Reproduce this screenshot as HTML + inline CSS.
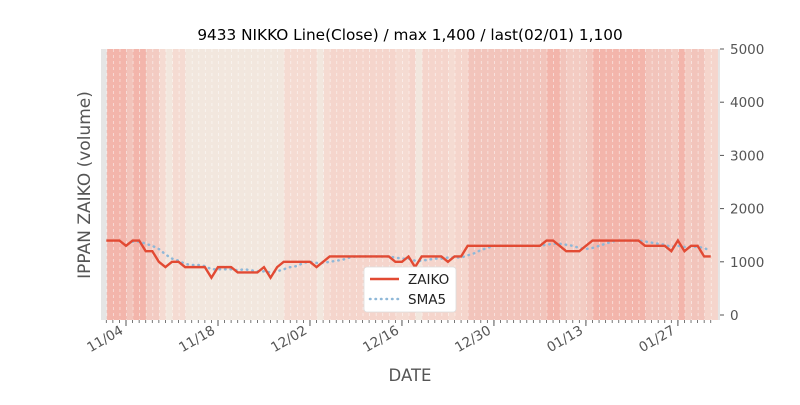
<!DOCTYPE html>
<html><head><meta charset="utf-8"><style>
body{margin:0;background:#fff;}
svg text{font-family:"DejaVu Sans","Liberation Sans",sans-serif;}
</style></head><body>
<svg id="s" width="800" height="400" xmlns="http://www.w3.org/2000/svg"></svg>
<script>
const Z=[1400,1400,1400,1300,1400,1400,1200,1200,1000,900,1000,1000,900,900,900,900,700,900,900,900,800,800,800,800,900,700,900,1000,1000,1000,1000,1000,900,1000,1100,1100,1100,1100,1100,1100,1100,1100,1100,1100,1000,1000,1100,900,1100,1100,1100,1100,1000,1100,1100,1300,1300,1300,1300,1300,1300,1300,1300,1300,1300,1300,1300,1400,1400,1300,1200,1200,1200,1300,1400,1400,1400,1400,1400,1400,1400,1400,1300,1300,1300,1300,1200,1400,1200,1300,1300,1100,1100];
const X=i=>106.3+6.57*i, Y=v=>315-v*266/5000;
const col=v=>v>=1400?'#f3b5ab':v>=1300?'#f2c4bb':v>=1200?'#f3cbc2':v>=1100?'#f5d5cc':v>=1000?'#f5dbd2':'#f2e7de';
let h='<rect x="101" y="49" width="619" height="271" fill="#e5e5e5"/>';
for(let i=0;i<Z.length;i++){h+=`<rect x="${X(i)+0.5}" y="49" width="6.7" height="271" fill="${col(Z[i])}"/>`;}
for(let i=0;i<Z.length;i++){h+=`<line x1="${X(i)+0.5}" y1="49" x2="${X(i)+0.5}" y2="320" stroke="#fff" stroke-opacity="0.6" stroke-width="0.8" stroke-dasharray="3,3"/>`;
h+=`<line x1="${X(i)}" y1="320" x2="${X(i)}" y2="323" stroke="#555" stroke-width="0.8"/>`;}
const maj=[[3,'11/04'],[17,'11/18'],[31,'12/02'],[45,'12/16'],[59,'12/30'],[73,'01/13'],[87,'01/27']];
for(const [i,t] of maj){const x=X(i);h+=`<line x1="${x}" y1="320" x2="${x}" y2="326" stroke="#555"/>`;
h+=`<text transform="translate(${x-2},333) rotate(-30)" text-anchor="end" font-size="13.5" fill="#555">${t}</text>`;}
for(let k=0;k<=5;k++){const y=Y(k*1000);h+=`<line x1="720" y1="${y}" x2="724" y2="${y}" stroke="#555"/><text x="730" y="${y+5}" font-size="13.5" fill="#555">${k*1000}</text>`;}
let sp='';for(let i=4;i<Z.length;i++){let m=(Z[i]+Z[i-1]+Z[i-2]+Z[i-3]+Z[i-4])/5;sp+=`${X(i)},${Y(m)} `;}
h+=`<polyline points="${sp}" fill="none" stroke="#8fb8d8" stroke-width="2.5" stroke-dasharray="0.5,5" stroke-linecap="round"/>`;
let zp=Z.map((v,i)=>`${X(i)},${Y(v)}`).join(' ');
h+=`<polyline points="${zp}" fill="none" stroke="#e24a33" stroke-width="2.4"/>`;
h+=`<rect x="364" y="267" width="92" height="45" rx="3" fill="#fff" stroke="#ddd" stroke-width="0.8"/>`;
h+=`<line x1="370" y1="279" x2="399" y2="279" stroke="#e24a33" stroke-width="2.4"/><text x="408" y="284" font-size="13.5" fill="#222">ZAIKO</text>`;
h+=`<line x1="370" y1="299" x2="399" y2="299" stroke="#8fb8d8" stroke-width="2.5" stroke-dasharray="0.5,5" stroke-linecap="round"/><text x="408" y="304" font-size="13.5" fill="#222">SMA5</text>`;
h+=`<text x="410" y="40" text-anchor="middle" font-size="15.3" fill="#000">9433 NIKKO Line(Close) / max 1,400 / last(02/01) 1,100</text>`;
h+=`<text x="410" y="381" text-anchor="middle" font-size="16.5" fill="#555">DATE</text>`;
h+=`<text transform="translate(90,185) rotate(-90)" text-anchor="middle" font-size="17" fill="#555">IPPAN ZAIKO (volume)</text>`;
document.getElementById('s').innerHTML=h;
</script>
</body></html>
